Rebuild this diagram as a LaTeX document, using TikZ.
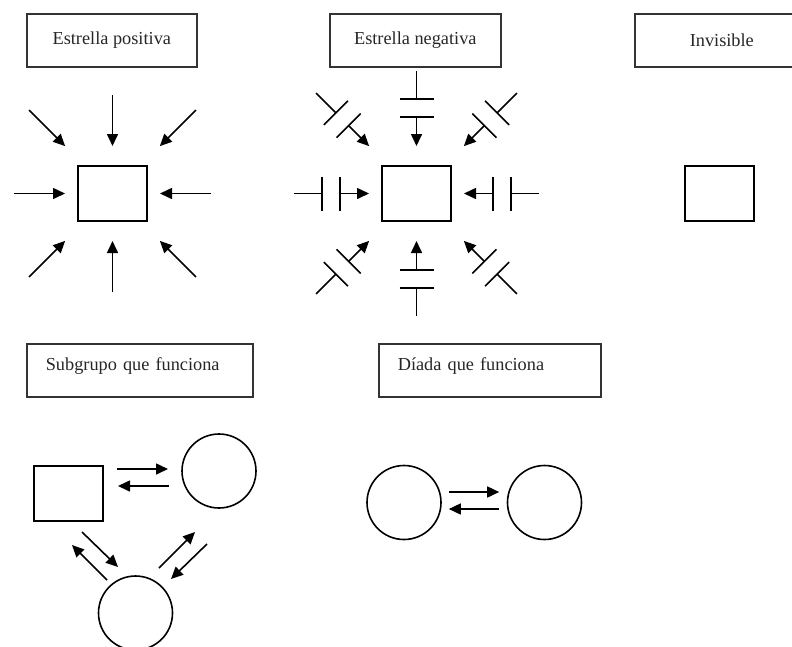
\documentclass[tikz,border=0pt]{standalone}
\usepackage{fontspec}
\setmainfont{Liberation Serif}
\usetikzlibrary{arrows.meta,calc,positioning}

\begin{document}
\begin{tikzpicture}[x=1pt,y=-1pt,line width=1.6pt,
                    >={Triangle[length=12pt,width=11pt]},
                    font=\fontsize{18.3}{21}\selectfont]
  \tikzstyle{lbl}=[draw, line width=1.6pt, draw=black!80, anchor=north west,
                   text=black!85, minimum height=53pt, inner ysep=0pt,
                   align=center]
  \tikzstyle{caja}=[draw, rectangle, minimum width=69pt, minimum height=55pt,
                    inner sep=0pt]
  \tikzstyle{bola}=[draw, circle, minimum size=74pt, inner sep=0pt]

  \useasboundingbox (0,0) rectangle (792,646);

  % titulos
  \node[lbl, minimum width=170pt] (t-pos) at (26,13)  {Estrella positiva};
  \node[lbl, minimum width=171pt] (t-neg) at (329,13) {Estrella negativa};
  \node[lbl, minimum width=174pt] (t-inv) at (634,13) {Invisible};
  \node[lbl, inner xsep=19pt, text width=188pt, align=left, text depth=12pt]
        (t-sub) at (26,343) {Subgrupo que funciona};
  \node[lbl, inner xsep=19pt, text width=184pt, align=left, text depth=12pt]
        (t-dia) at (378,343) {D\'iada que funciona};

  % estrella positiva
  \node[caja] (ps) at (112.5,193.5) {};
  \foreach \a in {0,45,...,315}{
    \pgfmathsetmacro\r{mod(\a,90)==0 ? 47.5 : 67}
    \coordinate (ps-e\a) at ($(ps.center)+(\a:\r)$);
    \coordinate (ps-s\a) at ($(ps.center)+(\a:\r+51)$);
    \draw[->] (ps-s\a) -- (ps-e\a);
  }

  % estrella negativa
  \node[caja] (ns) at (416.5,193.5) {};
  \foreach \a in {0,45,...,315}{
    \pgfmathsetmacro\r{mod(\a,90)==0 ? 47.5 : 67}
    \coordinate (ns-e\a) at ($(ns.center)+(\a:\r)$);
    \coordinate (ns-b\a) at ($(ns.center)+(\a:\r+29)$);
    \coordinate (ns-c\a) at ($(ns.center)+(\a:\r+47)$);
    \coordinate (ns-s\a) at ($(ns.center)+(\a:\r+75)$);
    \draw[->] (ns-b\a) -- (ns-e\a);
    \draw ($(ns-b\a)!17pt!90:(ns.center)$) -- ($(ns-b\a)!17pt!-90:(ns.center)$);
    \draw ($(ns-c\a)!17pt!90:(ns.center)$) -- ($(ns-c\a)!17pt!-90:(ns.center)$);
    \draw (ns-c\a) -- (ns-s\a);
  }

  % invisible
  \node[caja] (inv) at (719.5,193.5) {};

  % subgrupo que funciona
  \node[caja] (sg-a) at (68.5,493.5) {};
  \node[bola] (sg-b) at (219,471)    {};
  \node[bola] (sg-c) at (135.5,613)  {};

  \draw[->] ([shift={(48.5,-24.5)}]sg-a.center) -- ([shift={(-51,-2)}]sg-b.center);
  \draw[->] ([shift={(-50,15)}]sg-b.center)     -- ([shift={(49.5,-7.5)}]sg-a.center);
  \draw[->] ([shift={(13.5,38.5)}]sg-a.center)  -- ([shift={(-17.5,-46)}]sg-c.center);
  \draw[->] ([shift={(-28.5,-33)}]sg-c.center)  -- ([shift={(3.5,51.5)}]sg-a.center);
  \draw[->] ([shift={(23.5,-45)}]sg-c.center)   -- ([shift={(-24,61)}]sg-b.center);
  \draw[->] ([shift={(-12,73)}]sg-b.center)     -- ([shift={(35.5,-34)}]sg-c.center);

  % diada que funciona
  \node[bola] (dy-a) at (404,502.5)   {};
  \node[bola] (dy-b) at (544.5,502.5) {};

  \draw[->] ([shift={(7,-10.5)}]dy-a.east) -- ([shift={(-7.5,-10.5)}]dy-b.west);
  \draw[->] ([shift={(-7.5,6.5)}]dy-b.west) -- ([shift={(7,6.5)}]dy-a.east);
\end{tikzpicture}
\end{document}
